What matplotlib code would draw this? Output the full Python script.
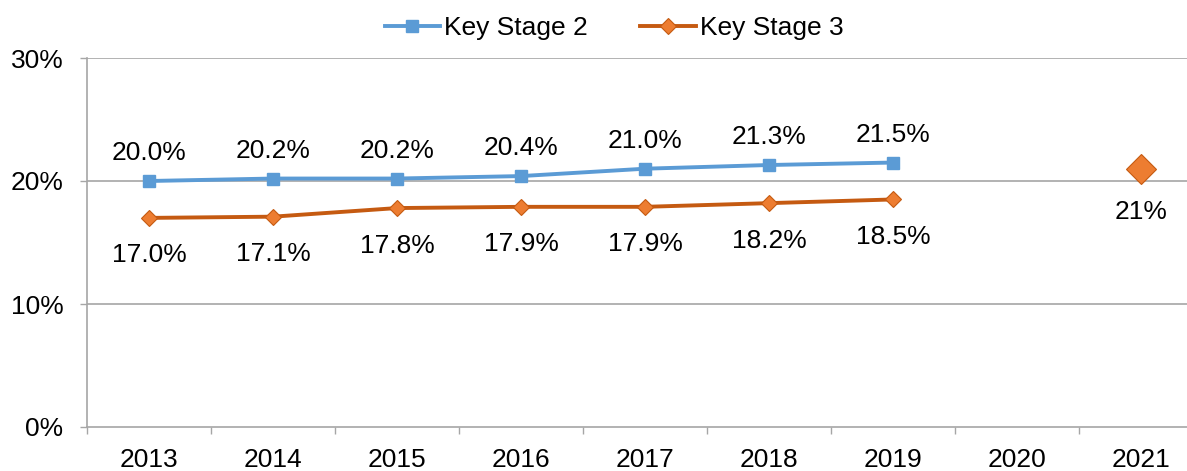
import matplotlib
matplotlib.use("Agg")
import matplotlib.pyplot as plt
from matplotlib.lines import Line2D

plt.rcParams['font.family'] = ['Liberation Sans', 'DejaVu Sans']

years = ["2013", "2014", "2015", "2016", "2017", "2018", "2019", "2020", "2021"]
ks2 = [20.0, 20.2, 20.2, 20.4, 21.0, 21.3, 21.5]
ks3 = [17.0, 17.1, 17.8, 17.9, 17.9, 18.2, 18.5]
target_year_index = 8
target_value = 21.0
yticks = [0, 10, 20, 30]

BLUE = "#5B9BD5"
ORANGE = "#ED7D31"
ORANGE_DARK = "#C55A11"
GRID = "#A6A6A6"

fig = plt.figure(figsize=(11.87, 4.71), dpi=100)
W, H = 1187, 471
x0, x1 = 87, 87 + 9 * 124
y0, y1 = 427, 58
ax = fig.add_axes([x0 / W, (H - y0) / H, (x1 - x0) / W, (y0 - y1) / H])

xs2 = list(range(len(ks2)))
xs3 = list(range(len(ks3)))
ax.plot(xs2, ks2, color=BLUE, lw=2.8, marker='s', ms=8, mfc=BLUE, mec=BLUE, zorder=3)
ax.plot(xs3, ks3, color=ORANGE_DARK, lw=2.8, marker='D', ms=8, mfc=ORANGE, mec=ORANGE_DARK, mew=0.8, zorder=3)
ax.plot([target_year_index], [target_value], ls='none', marker='D', ms=15, mfc=ORANGE, mec=ORANGE_DARK, mew=0.8, zorder=3)

fs = 19
for x, v in zip(xs2, ks2):
    ax.annotate(f"{v:.1f}%", (x, v), xytext=(0, 20), textcoords='offset points',
                ha='center', va='center', fontsize=fs, color='black')
for x, v in zip(xs3, ks3):
    ax.annotate(f"{v:.1f}%", (x, v), xytext=(0, -27), textcoords='offset points',
                ha='center', va='center', fontsize=fs, color='black')
ax.annotate(f"{target_value:.0f}%", (target_year_index, target_value), xytext=(0, -31),
            textcoords='offset points', ha='center', va='center', fontsize=fs, color='black')

ax.set_xlim(-0.5, len(years) - 0.5)
ax.set_ylim(0, 30)
ax.set_yticks(yticks)
ax.set_yticklabels([f"{t}%" for t in yticks], fontsize=fs)
ax.set_xticks(range(len(years)))
ax.set_xticklabels(years, fontsize=fs)
ax.set_xticks([i - 0.5 for i in range(len(years) + 1)], minor=True)
ax.tick_params(axis='x', which='major', length=0, pad=15)
ax.tick_params(axis='x', which='minor', length=5, color=GRID, width=1, direction='out')
ax.tick_params(axis='y', length=5, color=GRID, width=1, direction='out', pad=12)

for y in yticks[1:]:
    ax.axhline(y, color=GRID, lw=1.2, zorder=1)
for s in ['top', 'right']:
    ax.spines[s].set_visible(False)
for s in ['left', 'bottom']:
    ax.spines[s].set_color(GRID)
    ax.spines[s].set_linewidth(1.2)

handles = [
    Line2D([], [], color=BLUE, lw=2.8, marker='s', ms=8, mfc=BLUE, mec=BLUE),
    Line2D([], [], color=ORANGE_DARK, lw=2.8, marker='D', ms=8, mfc=ORANGE, mec=ORANGE_DARK, mew=0.8),
]
fig.legend(handles, ["Key Stage 2", "Key Stage 3"], loc='center', bbox_to_anchor=(614 / W, 1 - 28 / H),
           ncol=2, frameon=False, fontsize=fs, handlelength=2.1, handletextpad=0.15, columnspacing=2.0)

fig.savefig("out.png", dpi=100)
